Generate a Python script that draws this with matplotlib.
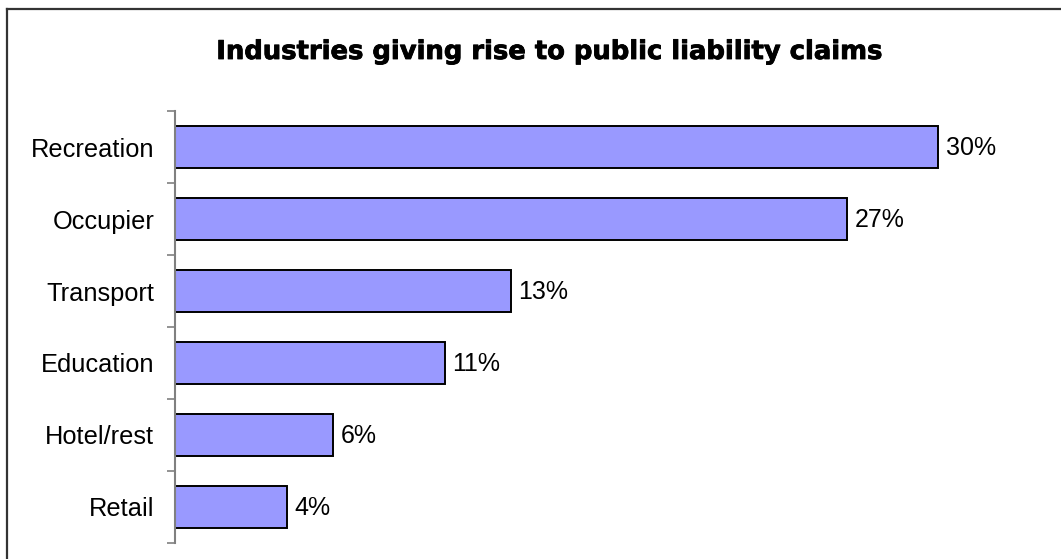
import matplotlib.pyplot as plt
import matplotlib.patheffects as pe
from matplotlib.lines import Line2D
import numpy as np

# data (top to bottom)
categories = ['Recreation', 'Occupier', 'Transport', 'Education', 'Hotel/rest', 'Retail']
shares = [30.0, 26.4, 13.2, 10.6, 6.2, 4.4]
share_labels = ['30%', '27%', '13%', '11%', '6%', '4%']

W, H = 1061, 559
fig = plt.figure(figsize=(W / 100, H / 100), dpi=100)
fig.patch.set_facecolor('white')

ax = fig.add_axes([175 / W, 1 - 543 / H, (1040 - 175) / W, (543 - 111) / H])

y = np.arange(len(categories))
ax.barh(y, shares, height=0.58, color='#9999FF', edgecolor='black', linewidth=1.4)

for yi, v, lab in zip(y, shares, share_labels):
    ax.text(v + 0.3, yi + 0.02, lab, va='center', ha='left', fontsize=18,
            family='Liberation Sans')

ax.set_xlim(0, 34)
ax.set_ylim(len(categories) - 0.5, -0.5)

ax.set_yticks(y)
ax.set_yticklabels(categories, fontsize=18.3, family='Liberation Sans')
ax.tick_params(axis='y', which='major', length=0, pad=15)
ax.set_yticks(np.arange(len(categories) + 1) - 0.5, minor=True)
ax.tick_params(axis='y', which='minor', length=6, width=1.2, color='#808080')
ax.set_xticks([])

for s in ['top', 'right', 'bottom']:
    ax.spines[s].set_visible(False)
ax.spines['left'].set_color('#808080')
ax.spines['left'].set_linewidth(1.5)

fig.text(549 / W, 1 - 52 / H, 'Industries giving rise to public liability claims',
         ha='center', va='center', fontsize=18.6, fontweight='heavy',
         family='DejaVu Sans',
         path_effects=[pe.withStroke(linewidth=0.6, foreground='black')])

# outer frame (only top and left edges are inside the image)
fig.add_artist(Line2D([7 / W, 1.0], [1 - 9 / H, 1 - 9 / H], transform=fig.transFigure,
                      color='#333333', linewidth=1.6))
fig.add_artist(Line2D([7 / W, 7 / W], [0.0, 1 - 9 / H], transform=fig.transFigure,
                      color='#333333', linewidth=1.6))

plt.savefig('out.png', dpi=100)
